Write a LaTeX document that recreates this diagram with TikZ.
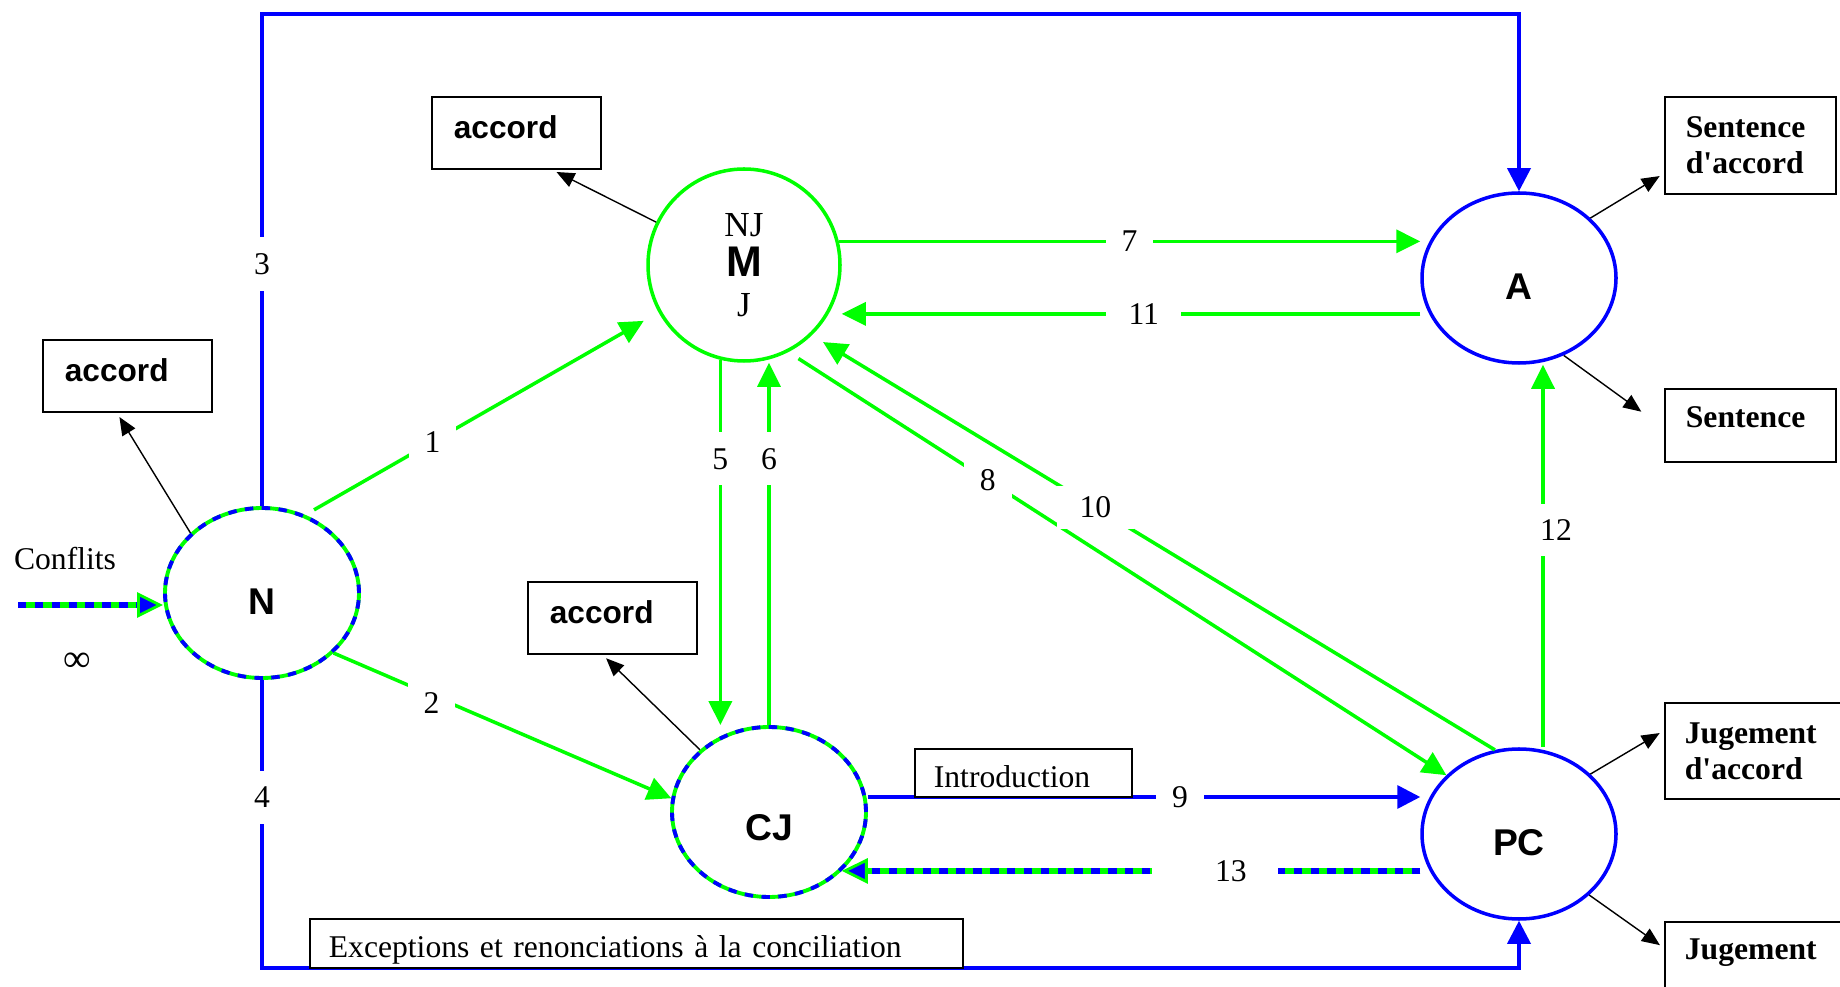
\documentclass[tikz,border=0pt]{standalone}
\usepackage{fontspec}
\setmainfont{Liberation Serif}
\setsansfont{Liberation Sans}
\usepackage{xcolor}
\definecolor{lgreen}{HTML}{00FF00}
\definecolor{lblue}{HTML}{0000FF}
\usepackage{tikz}
\usetikzlibrary{positioning, arrows.meta, shapes.geometric}

\begin{document}
\begin{tikzpicture}[
  x=0.1mm, y=-0.1mm,
  font=\fontsize{9}{10.2}\selectfont,
  proc/.style={ellipse, minimum width=19.4mm, minimum height=17mm, inner sep=0pt, line width=1pt,
               text height=12.4pt, text depth=0pt,
               font=\sffamily\bfseries\fontsize{10.6}{12}\selectfont},
  bproc/.style={proc, draw=lblue},
  mproc/.style={proc, circle, minimum size=19.2mm, draw=lgreen, align=center,
                text height=, text depth=, font=\fontsize{10}{11.3}\selectfont},
  sproc/.style={proc, draw=lgreen, line width=1.1pt,
                postaction={draw=lblue, line width=1.1pt, dash pattern=on 2.4pt off 2.4pt}},
  box/.style={draw, line width=0.5pt, fill=white, align=left, inner ysep=0pt},
  accbox/.style={box, minimum height=7.2mm, text width=12.5mm, inner xsep=2.2mm,
                 text depth=3.4pt, font=\sffamily\bfseries\fontsize{9}{10}\selectfont},
  resbox/.style={box, text width=12.9mm, inner xsep=2.1mm, font=\bfseries\fontsize{9}{10.2}\selectfont},
  notebox/.style={box, inner xsep=1.9mm, text height=8pt, text depth=0pt},
  lbl/.style={fill=white, inner sep=1.6mm},
  garr/.style={draw=lgreen, line width=1pt, -{Triangle[length=2.4mm, width=2.3mm]}},
  barr/.style={draw=lblue, line width=1pt, -{Triangle[length=2.3mm, width=2.3mm]}},
  karr/.style={-{Triangle[length=1.8mm, width=1.5mm]}, line width=0.4pt, shorten >=0.5mm},
  sarr/.style={draw=lgreen, line width=1.7pt,
               -{Triangle[length=2.6mm, width=2.5mm, fill=lblue, color=lgreen, line width=0.8pt]},
               postaction={draw=lblue, dash pattern=on 2.4pt off 2.4pt, -, shorten >=2.6mm}}
]
\useasboundingbox (0,0) rectangle (1840,987);

\node[sproc] (n)  at (262,593) {N};
\node[mproc] (m)  at (744,265) {NJ\\{\sffamily\bfseries\fontsize{12.2}{11.3}\selectfont M}\\J};
\node[sproc, text height=16.2pt] (cj) at (769,812) {CJ};
\node[bproc] (a)  at (1519,278) {A};
\node[bproc] (pc) at (1519,834) {PC};

\node[accbox, anchor=north west] (accn)  at (42,339)  {accord};
\node[accbox, anchor=north west] (accm)  at (431,96)  {accord};
\node[accbox, anchor=north west] (acccj) at (527,581) {accord};
\node[resbox, minimum height=9.7mm, anchor=north west] (sacc) at (1664,96) {Sentence\\d\textquotesingle accord};
\node[resbox, minimum height=7.3mm, text depth=4.6pt, below=19.3mm of sacc] (sent) {Sentence};
\node[resbox, text width=15mm, inner xsep=2mm, minimum height=9.6mm, anchor=north west] (jacc) at (1664,702) {Jugement\\d\textquotesingle accord};
\node[resbox, text width=15mm, inner xsep=2mm, minimum height=7.3mm, text depth=5.4pt, below=12.1mm of jacc] (jug) {Jugement};

\node (conf) at (65,559) {Conflits};
\node (inf)  at (77,662) {\fontsize{11}{12}\selectfont ∞};

\coordinate (top) at (0,14);
\coordinate (bot) at (0,968);
\coordinate (src) at (18,605);

\draw[barr] (n.north) -- node[lbl, pos=0.492] {3} (n.north |- top) -| (a.north);
\draw[barr] (n.south) -- node[lbl, pos=0.408] {4} (n.south |- bot) -| (pc.south);
\draw[garr, shorten <=1mm, shorten >=1.7mm] (n.61) -- node[lbl, pos=0.36] {1} (m.-151);
\draw[garr] (n.-40) -- node[lbl, pos=0.29, yshift=-0.8mm] {2} (cj.172);
\draw[garr] (m.-104) -- node[lbl, pos=0.271] {5} (m.-104 |- cj.north);
\draw[garr] (cj.north) -- node[lbl, pos=0.735] {6} (cj.north |- m.south);
\draw[garr] (m.14) -- node[lbl] {7} (m.14 -| a.west);
\draw[garr, shorten <=1.2mm] (m.-63) -- node[lbl, pos=0.303] {8} (pc.141);
\draw[barr] ([yshift=1.5mm]cj.east) -- node[lbl, pos=0.565] {9} ([yshift=1.5mm]cj.east -| pc.west);
\draw[garr, shorten >=1.3mm] (pc.106) -- node[lbl, pos=0.585, inner xsep=2.3mm, inner ysep=1.1mm] {10} (m.-46);
\draw[garr] (a.west |- m.-30) -- node[lbl, pos=0.478, inner xsep=2.25mm] {11} (m.east |- m.-30);
\draw[garr] ([xshift=2.4mm]pc.north) -- node[lbl, pos=0.568, xshift=1.3mm] {12} ([xshift=2.4mm]a.south);
\draw[sarr] (pc.west |- cj.-39) -- node[lbl, pos=0.355, inner xsep=3.1mm] {\hspace*{3.2mm}13} (cj.-39);
\draw[sarr] (src) -- (src -| n.west);

\draw[karr] (n.140) -- (accn.-106);
\draw[karr] (m.154) -- (accm.-46);
\draw[karr] (cj.138) -- (acccj.-105);
\draw[karr] (a.40) -- (sacc.-162);
\draw[karr, shorten >=2.8mm] (a.-60) -- (sent.-178);
\draw[karr] (pc.40) -- (jacc.168);
\draw[karr] (pc.-41) -- (jug.174);

\node[notebox, anchor=south west, minimum height=4.8mm, text width=17.9mm] (intro) at (914,798) {Introduction};
\node[notebox, anchor=south west, minimum height=4.9mm, text width=61.5mm] (exc) at (309,969) {Exceptions et renonciations à la conciliation};
\end{tikzpicture}
\end{document}
